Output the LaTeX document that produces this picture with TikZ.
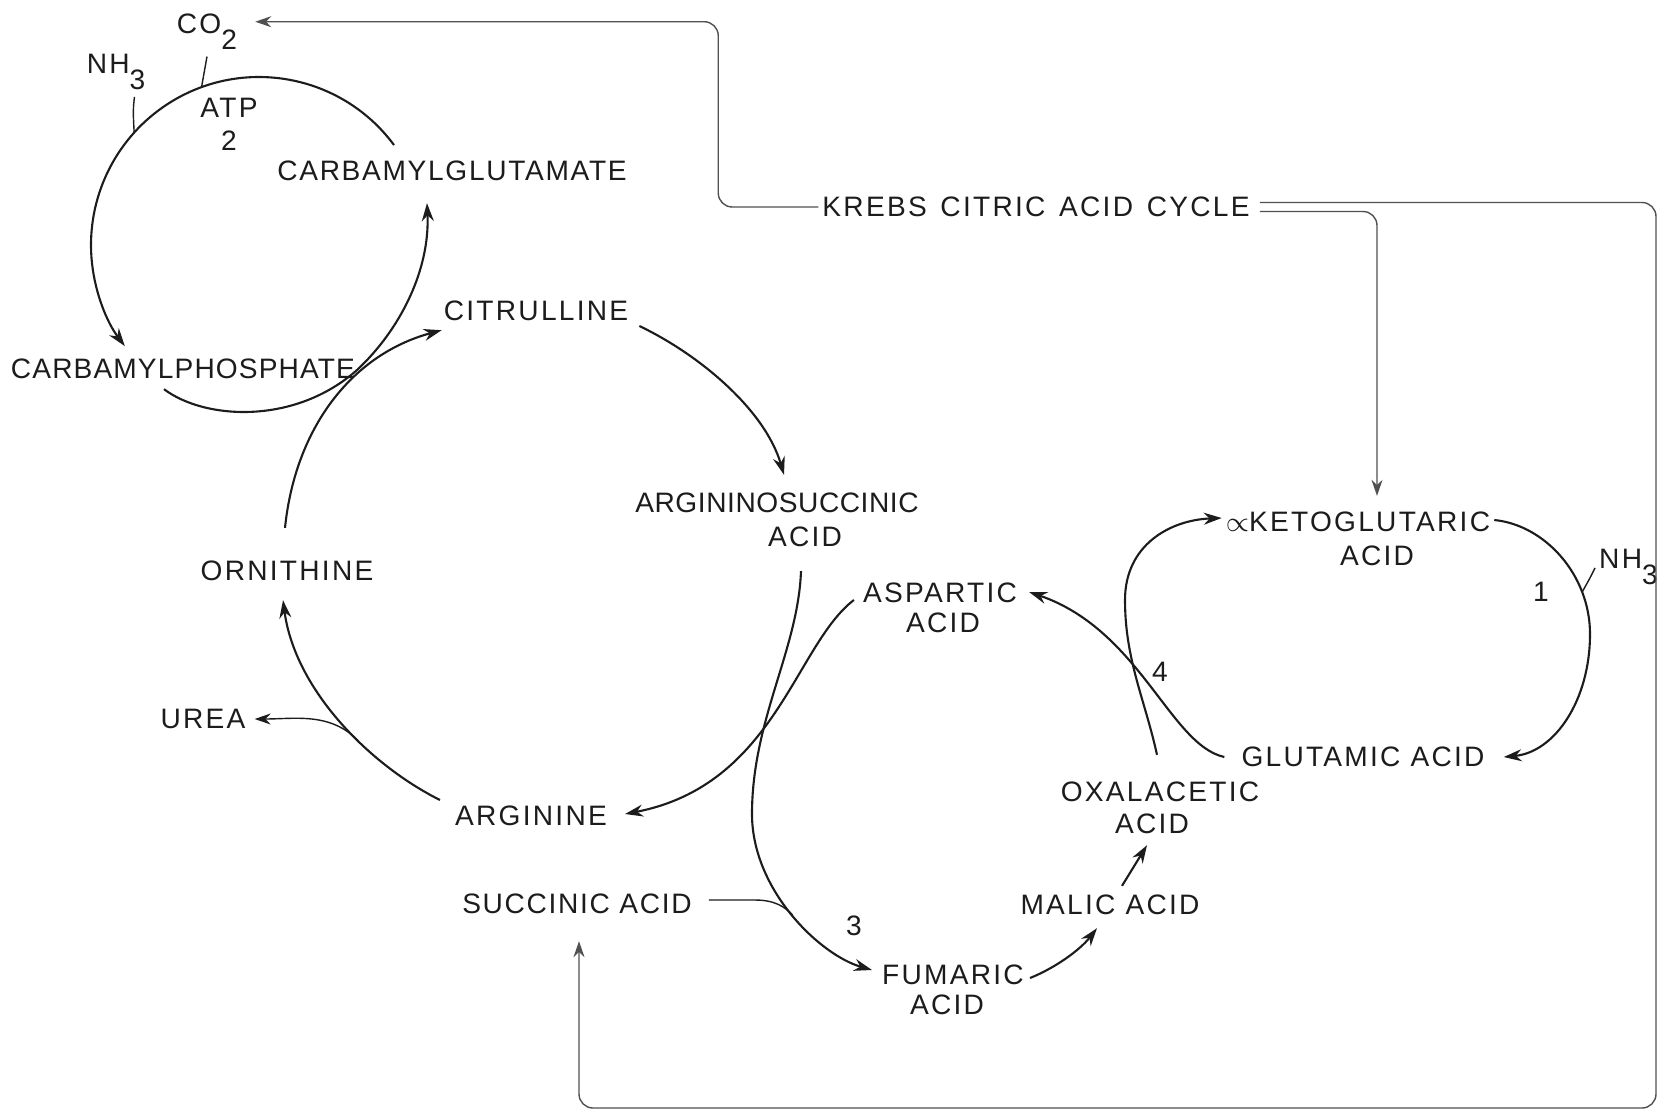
\documentclass[tikz,border=0pt]{standalone}
\usepackage{fontspec}
\setmainfont{Liberation Sans}[LetterSpace=8.0]
\usetikzlibrary{arrows.meta, calc}
\definecolor{Ink}{HTML}{1C1C1C}
\definecolor{Feed}{HTML}{505050}
\newcommand{\lowsub}[1]{\raisebox{-1.1ex}{#1}}
\newcommand{\widewords}{\spaceskip=3.9pt\relax}

\begin{document}
\begin{tikzpicture}[
    font=\fontsize{8}{9.4}\selectfont,
    every node/.style={text=Ink, inner sep=1pt},
    tight/.style={font=\fontsize{8}{9.4}\selectfont\addfontfeature{LetterSpace=#1}},
    arr/.style={semithick, Ink, -{Stealth[length=1.8mm, width=1.2mm]}},
    side/.style={thin, Ink},
    feed/.style={thin, Feed, rounded corners=1.4mm, -{Stealth[length=1.6mm, width=1.1mm]}}
]
    \useasboundingbox (0,0) rectangle (16.57,-11.11);

    % Carbamyl cycle
    \coordinate (cc) at (2.59,-2.45);
    \node[anchor=base] (co2) at (2.07,-0.33) {CO\lowsub{2}};
    \node[anchor=base] (nhl) at (1.16,-0.73) {NH\lowsub{3}};
    \node[align=center] (atp) at (2.29,-1.245) {ATP\\2};
    \node[tight=6] (cglu) at (4.52,-1.71) {CARBAMYLGLUTAMATE};
    \node[tight=4] (cph) at (1.83,-3.69) {CARBAMYLPHOSPHATE};

    % Urea cycle
    \node (cit) at (5.36,-3.11) {CITRULLINE};
    \node[tight=2] (asa) at (7.77,-5.03) {ARGININOSUCCINIC};
    \node (asa2) at (8.05,-5.37) {ACID};
    \node (orn) at (2.87,-5.71) {ORNITHINE};
    \node (arg) at (5.31,-8.16) {ARGININE};
    \node (urea) at (2.03,-7.19) {UREA};
    \node[tight=6] (suc) at (5.77,-9.04) {SUCCINIC ACID};

    % Transamination and fumarate side
    \node (krebs) at (10.36,-2.07) {\widewords KREBS CITRIC ACID CYCLE};
    \node (akg) at (13.58,-5.22) {$\propto$KETOGLUTARIC};
    \node (akg2) at (13.77,-5.56) {ACID};
    \node[anchor=base west] (nhr) at (15.95,-5.68) {NH\lowsub{3}};
    \node (one) at (15.41,-5.92) {1};
    \node (glu) at (13.63,-7.57) {GLUTAMIC ACID};
    \node (asp) at (9.40,-5.93) {ASPARTIC};
    \node (asp2) at (9.43,-6.23) {ACID};
    \node (four) at (11.60,-6.72) {4};
    \node (oxa) at (11.60,-7.92) {OXALACETIC};
    \node (oxa2) at (11.52,-8.24) {ACID};
    \node (mal) at (11.10,-9.05) {MALIC ACID};
    \node (fum) at (9.53,-9.75) {FUMARIC};
    \node (fum2) at (9.47,-10.05) {ACID};
    \node (three) at (8.54,-9.26) {3};

    % carbamyl cycle arcs
    \draw[arr] ($(cc)+(36.5:1.68)$) arc[start angle=36.5, end angle=217, radius=1.68];
    \draw[arr] ($(cph.south)+(-0.19,-0.06)$) .. controls (2.05,-4.20) and (2.95,-4.25) .. (3.57,-3.70)
        .. controls (4.00,-3.30) and (4.30,-2.70) .. ($(cglu.south)+(-0.25,-0.18)$);
    \draw[side] ($(nhl.south east)+(-0.15,-0.03)$) .. controls (1.33,-1.10) .. ($(cc)+(138:1.68)$);
    \draw[side] ($(co2.south)+(0,-0.03)$) .. controls (2.05,-0.72) .. ($(cc)+(110:1.68)$);

    % urea cycle arcs
    \draw[arr] ($(orn.north)+(-0.02,0.29)$) .. controls (2.95,-4.30) and (3.50,-3.55) .. ($(cit.south west)+(0.02,-0.05)$);
    \draw[arr] ($(cit.east)+(0.07,-0.15)$) .. controls (7.00,-3.55) and (7.65,-4.10) .. ($(asa.north)+(0.07,0.14)$);
    \draw[arr] ($(asa2.south)+(-0.04,-0.2)$) .. controls (7.98,-6.50) and (7.52,-7.20) .. (7.52,-8.14)
        .. controls (7.52,-8.90) and (8.20,-9.55) .. coordinate[pos=0.5] (sjoin) ($(fum.west)+(-0.06,0.05)$);
    \draw[arr] ($(arg.west)+(-0.11,0.16)$) .. controls (3.70,-7.65) and (2.95,-6.90) .. coordinate[pos=0.4] (ubr) ($(orn.south)+(-0.04,-0.15)$);
    \draw[side, -{Stealth[length=1.6mm, width=1.1mm]}] (ubr) .. controls (3.30,-7.12) and (2.95,-7.19) .. ($(urea.east)+(0.05,0)$);

    % aspartate, fumarate, malate, oxalacetate
    \draw[arr] ($(asp.west)+(-0.05,-0.07)$) .. controls (7.95,-6.45) and (7.75,-7.85) .. ($(arg.east)+(0.14,0.02)$);
    \draw[side] ($(suc.east)+(0.13,0.04)$) -- (7.55,-9.00) .. controls (7.75,-9.00) and (7.85,-9.07) .. (sjoin);
    \draw[arr] ($(fum.east)+(0.02,-0.03)$) .. controls (10.55,-9.68) and (10.80,-9.50) .. ($(mal.south)+(-0.13,-0.09)$);
    \draw[arr] ($(mal.north)+(0.12,0.05)$) -- ($(oxa2.south)+(-0.05,-0.07)$);

    % glutamate cycle
    \draw[arr] ($(oxa.north)+(-0.03,0.23)$) .. controls (11.45,-7.00) and (11.25,-6.60) .. (11.25,-6.00)
        .. controls (11.25,-5.45) and (11.70,-5.20) .. ($(akg.west)+(0,0.04)$);
    \draw[arr] ($(glu.west)+(-0.13,0)$) .. controls (11.70,-7.45) and (11.40,-6.30) .. ($(asp.east)+(0.08,0.01)$);
    \draw[arr] ($(akg.east)+(0,0.02)$) .. controls (15.45,-5.25) and (15.90,-5.75) .. coordinate[pos=0.75] (nhj) (15.90,-6.34)
        .. controls (15.90,-7.00) and (15.55,-7.52) .. ($(glu.east)+(0.15,0)$);
    \draw[side] (nhj) .. controls (15.90,-5.78) .. (nhr.base west);

    % Krebs cycle feeds
    \draw[feed] (krebs.west) -- ++(-1.0,0) |- ($(co2.mid east)+(0.14,0.02)$);
    \draw[feed] ($(krebs.east)+(0.06,0.045)$) -| (16.56,-11.08) -| ($(suc.south)+(0.02,-0.23)$);
    \draw[feed] ($(krebs.east)+(0.06,-0.045)$) -| ($(akg.north -| akg2.north)+(0,0.12)$);
\end{tikzpicture}
\end{document}
